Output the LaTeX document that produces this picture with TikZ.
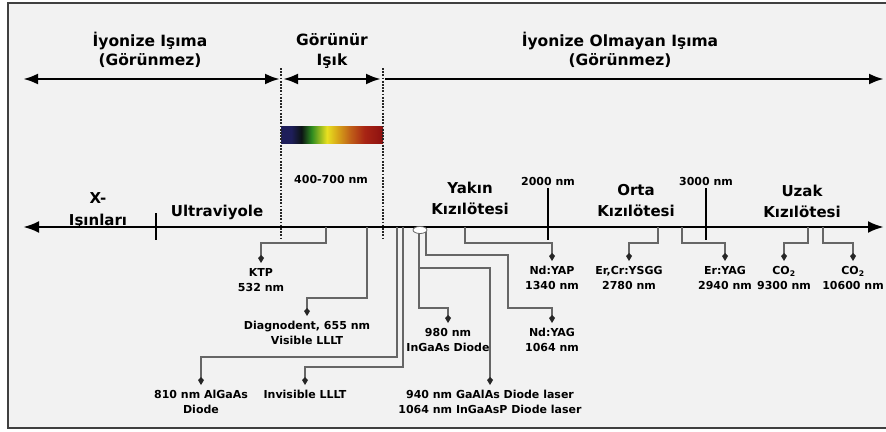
\documentclass[tikz,border=0pt]{standalone}
\usepackage{fontspec}
\setmainfont{DejaVu Sans}
\usepackage{xcolor}
\usetikzlibrary{positioning,arrows.meta,shapes.geometric}

\definecolor{specnavy}{HTML}{1E1E5A}
\definecolor{specdark}{HTML}{0C1414}
\definecolor{specgreen}{HTML}{2E8B20}
\definecolor{specyellow}{HTML}{E8E020}
\definecolor{specamber}{HTML}{D8A818}
\definecolor{specorange}{HTML}{C06018}
\definecolor{specred}{HTML}{A82414}
\definecolor{specdeep}{HTML}{8C1010}
\pgfdeclarehorizontalshading{visspec}{100bp}{%
  color(0bp)=(specnavy); color(25bp)=(specnavy); color(30bp)=(specnavy);
  color(35bp)=(specdark); color(40bp)=(specgreen); color(47.5bp)=(specyellow);
  color(52.5bp)=(specamber); color(59bp)=(specorange); color(66bp)=(specred);
  color(75bp)=(specdeep); color(100bp)=(specdeep)}

\begin{document}
\begin{tikzpicture}[
    x=1pt, y=-1pt,
    >=Latex,
    every node/.style = {font=\fontsize{11}{15}\selectfont\bfseries, align=center, inner sep=1pt},
    big/.style        = {font=\fontsize{15}{21}\selectfont\bfseries},
    head/.style       = {font=\fontsize{15.5}{19.5}\selectfont\bfseries},
    spine/.style      = {line width=2.8pt, draw=black,
                          {Latex[length=16pt,width=12pt]}-{Latex[length=16pt,width=12pt]}},
    band/.style       = {line width=2.8pt, draw=black,
                          {Latex[length=15pt,width=11pt]}-{Latex[length=15pt,width=11pt]}},
    border/.style     = {draw=black!85, line width=1.8pt, dash pattern=on 1.8pt off 1.4pt},
    divider/.style    = {line width=2.8pt, draw=black},
    lead/.style       = {-{Kite[length=8pt,width=6pt,inset=3pt,color=black!85]},
                          draw=black!60, line width=2pt, shorten >=4pt},
    lbl/.style        = {anchor=north},
    diode/.style      = {ellipse, draw=black!60, fill=white, line width=0.8pt,
                          minimum width=14pt, minimum height=7pt, inner sep=0pt},
]
\useasboundingbox (0,0) rectangle (886,431);
\draw[line width=1.6pt, draw=black!75, fill=black!5] (8,3) rectangle (900,428);

% Upper band: ionizing / visible / non-ionizing
\node[head] (ion)    at (150,50) {İyonize Işıma\\(Görünmez)};
\node[head] (vis)    at (332,51) {Görünür\\Işık};
\node[head] (nonion) at (620,50) {İyonize Olmayan Işıma\\(Görünmez)};

\coordinate (bL)  at (23,79);
\coordinate (bA)  at (280,79);
\coordinate (bB)  at (283,79);
\coordinate (bC)  at (381,79);
\coordinate (bD)  at (385,79);
\coordinate (bR)  at (884,79);
\draw[band] (bL) -- (bA);
\draw[band] (bB) -- (bC);
\draw[band, {-Latex[length=15pt,width=11pt]}] (bD) -- (bR);

% Visible strip and its dotted limits
\node[shading=visspec, minimum width=102pt, minimum height=17pt, inner sep=0pt] (spec) at (332,134.5) {};
\node (range) at (331,179) {400-700 nm};
\draw[border] (281,68) -- (281,240);
\draw[border] (383,68) -- (383,240);

% Main wavelength axis
\coordinate (axL) at (23,227);
\coordinate (axR) at (884,227);
\draw[spine] (axL) -- (axR);
\foreach \x/\t in {156/213, 548/188, 706/188} {
    \draw[divider] (\x,\t) -- (\x,240);
}
\node (n2000) at (548,181) {2000 nm};
\node (n3000) at (706,181) {3000 nm};

\node[big] (xray) at (98,210) {X-\\[1pt]Işınları};
\node[big] (uv)   at (217,212) {Ultraviyole};
\node[big] (nir)  at (470,198) {Yakın\\Kızılötesi};
\node[big] (mir)  at (636,201) {Orta\\Kızılötesi};
\node[big] (fir)  at (802,201) {Uzak\\Kızılötesi};

% Laser lines hanging from the axis
\coordinate (pKTP)   at (326,227);
\coordinate (pDiag)  at (367,227);
\coordinate (p810)   at (397,227);
\coordinate (pInv)   at (403,227);
\coordinate (pYAP)   at (465,227);
\coordinate (pYSGG)  at (658,227);
\coordinate (pErYAG) at (682,227);
\coordinate (pCOa)   at (808,227);
\coordinate (pCOb)   at (823,227);

\node[lbl] (ktp)    at (261,267) {KTP\\532 nm};
\node[lbl] (diag)   at (307,320) {Diagnodent, 655 nm\\Visible LLLT};
\node[lbl] (alg)    at (201,389) {810 nm AlGaAs\\Diode};
\node[lbl] (inv)    at (305,389) {Invisible LLLT};
\node[lbl] (ingaas) at (448,327) {980 nm\\InGaAs Diode};
\node[lbl] (gaalas) at (490,389) {940 nm GaAlAs Diode laser\\1064 nm InGaAsP Diode laser};
\node[lbl] (ndyag)  at (552,327) {Nd:YAG\\1064 nm};
\node[lbl] (ndyap)  at (552,265) {Nd:YAP\\1340 nm};
\node[lbl] (ysgg)   at (629,265) {Er,Cr:YSGG\\2780 nm};
\node[lbl] (eryag)  at (725,265) {Er:YAG\\2940 nm};
\node[lbl] (coa)    at (784,265) {CO\textsubscript{2}\\9300 nm};
\node[lbl] (cob)    at (853,265) {CO\textsubscript{2}\\10600 nm};

\draw[lead] (pKTP)   -- ++(0,16)  -| (ktp.north);
\draw[lead] (pDiag)  -- ++(0,71)  -| (diag.north);
\draw[lead] (p810)   -- ++(0,130) -| (alg.north);
\draw[lead] (pInv)   -- ++(0,140) -| (inv.north);
\draw[lead] (pYAP)   -- ++(0,16)  -| (ndyap.north);
\draw[lead] (pYSGG)  -- ++(0,16)  -| (ysgg.north);
\draw[lead] (pErYAG) -- ++(0,16)  -| (eryag.north);
\draw[lead] (pCOa)   -- ++(0,16)  -| (coa.north);
\draw[lead] (pCOb)   -- ++(0,16)  -| (cob.north);

% diode branch
\node[diode] (dio) at (420,230) {};
\draw[lead] (dio.-100) -- ++(0,74) -| (ingaas.north);
\draw[lead] (dio.-100) -- ++(0,34) -| (gaalas.north);
\draw[lead] (dio.-20) |- (508,255) -- (508,308) -| (ndyag.north);

\end{tikzpicture}
\end{document}
